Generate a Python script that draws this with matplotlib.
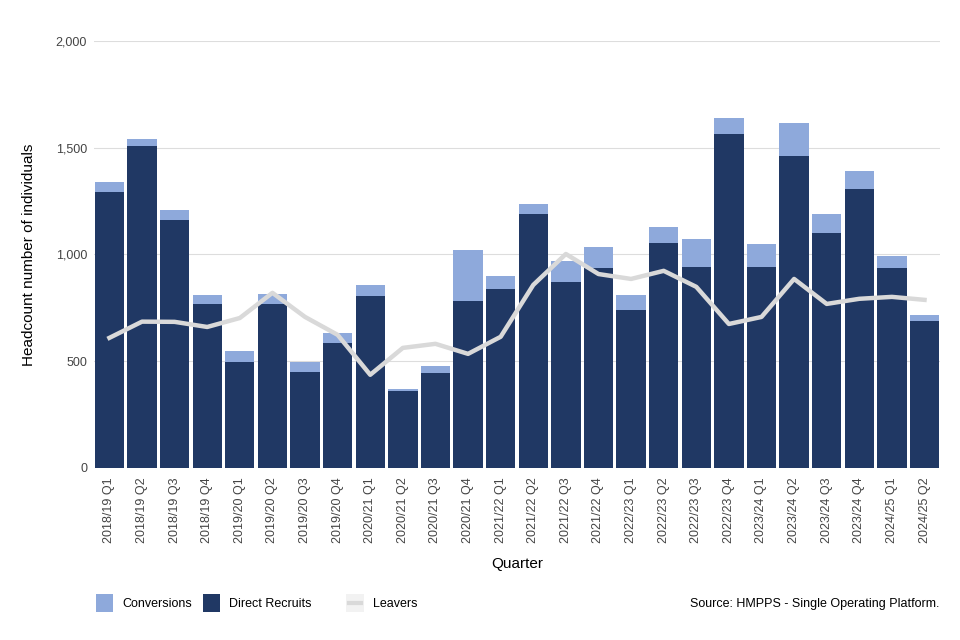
import numpy as np
import matplotlib.pyplot as plt
from matplotlib.patches import Rectangle
from matplotlib.lines import Line2D

plt.rcParams['font.family'] = ['Liberation Sans', 'DejaVu Sans']

quarters = ['2018/19 Q1', '2018/19 Q2', '2018/19 Q3', '2018/19 Q4',
            '2019/20 Q1', '2019/20 Q2', '2019/20 Q3', '2019/20 Q4',
            '2020/21 Q1', '2020/21 Q2', '2020/21 Q3', '2020/21 Q4',
            '2021/22 Q1', '2021/22 Q2', '2021/22 Q3', '2021/22 Q4',
            '2022/23 Q1', '2022/23 Q2', '2022/23 Q3', '2022/23 Q4',
            '2023/24 Q1', '2023/24 Q2', '2023/24 Q3', '2023/24 Q4',
            '2024/25 Q1', '2024/25 Q2']

direct_recruits = [1293, 1508, 1162, 768, 497, 768, 450, 585,
                   806, 361, 445, 782, 838, 1187, 871, 937,
                   740, 1054, 941, 1564, 941, 1461, 1101, 1307,
                   937, 689]
conversions = [47, 33, 46, 42, 51, 47, 47, 47,
               51, 9, 33, 239, 61, 50, 99, 98,
               70, 75, 132, 75, 108, 155, 89, 84,
               56, 28]
leavers = [609, 685, 684, 660, 702, 820, 707, 623,
           436, 562, 581, 534, 614, 857, 1002, 908,
           885, 923, 848, 674, 707, 885, 768, 792,
           801, 787]

navy = '#203864'
light_blue = '#8EA9DB'
grey_line = '#D9D9D9'


class SquareKey:
    # square legend key, optionally with a short thick line in it
    def __init__(self, color, line=False):
        self.color = color
        self.line = line

    def legend_artist(self, legend, orig_handle, fontsize, handlebox):
        x0, y0 = -handlebox.xdescent, -handlebox.ydescent
        w, h = handlebox.width, handlebox.height
        s = w
        cy = y0 + h / 2
        tr = handlebox.get_transform()
        rect = Rectangle((x0, cy - s / 2), s, s, facecolor=self.color,
                         edgecolor='none', transform=tr)
        handlebox.add_artist(rect)
        if self.line:
            ln = Line2D([x0 + s * 0.15, x0 + s * 0.85], [cy, cy],
                        color=grey_line, lw=3, transform=tr)
            handlebox.add_artist(ln)
        return rect


fig = plt.figure(figsize=(9.6, 6.4), dpi=100)
ax = fig.add_axes([0.098, 0.269, 0.881, 0.667])

x = np.arange(len(quarters))
ax.bar(x, direct_recruits, width=0.9, color=navy, zorder=2)
ax.bar(x, conversions, width=0.9, bottom=direct_recruits, color=light_blue, zorder=2)
ax.plot(x, leavers, color=grey_line, lw=3.2, zorder=3)

ax.set_xlim(-0.47, len(quarters) - 0.53)
ax.set_ylim(0, 2000)
ax.set_yticks([0, 500, 1000, 1500, 2000])
ax.set_yticklabels(['0', '500', '1,000', '1,500', '2,000'])
ax.set_xticks(x)
ax.set_xticklabels(quarters, rotation=90)
ax.tick_params(axis='x', length=0, labelsize=9, colors='#444444', pad=7)
ax.tick_params(axis='y', length=0, labelsize=9, colors='#444444', pad=5)
ax.grid(axis='y', color='#DDDDDD', lw=0.8, zorder=0)
ax.set_axisbelow(True)
for s in ax.spines.values():
    s.set_visible(False)

ax.set_ylabel('Headcount number of individuals', fontsize=11, color='black', labelpad=14)
ax.set_xlabel('Quarter', fontsize=11, color='black', labelpad=10)

k_conv, k_dr, k_leav = object(), object(), object()
fig.legend([k_conv, k_dr], ['Conversions', 'Direct Recruits'],
           handler_map={k_conv: SquareKey(light_blue), k_dr: SquareKey(navy)},
           loc='center left', bbox_to_anchor=(0.088, 0.056), ncol=2, frameon=False,
           fontsize=9, handlelength=1.4, columnspacing=0.9, handletextpad=0.7)
fig.legend([k_leav], ['Leavers'], handler_map={k_leav: SquareKey('#F2F2F2', line=True)},
           loc='center left', bbox_to_anchor=(0.349, 0.056), frameon=False,
           fontsize=9, handlelength=1.4, handletextpad=0.7)

fig.text(0.979, 0.056, 'Source: HMPPS - Single Operating Platform.', ha='right',
         va='center', fontsize=9)

fig.savefig('out.png', dpi=100)
